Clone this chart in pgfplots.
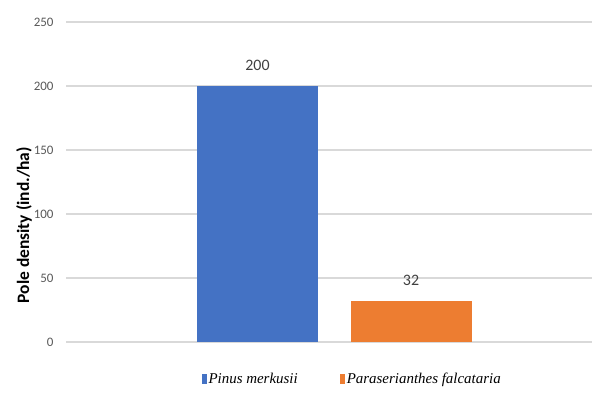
\documentclass[border=0pt]{standalone}
\usepackage{pgfplots}
\pgfplotsset{compat=1.18}
\usepackage{fontspec}
\setmainfont{Carlito}
\newfontfamily\legfont{Liberation Serif}
\definecolor{cblue}{HTML}{4472C4}
\definecolor{corange}{HTML}{ED7D31}
\definecolor{gridc}{HTML}{D9D9D9}
\definecolor{tickc}{HTML}{595959}
\definecolor{labc}{HTML}{404040}
\begin{document}
\begin{tikzpicture}[x=1bp,y=1bp]
\useasboundingbox (0,0) rectangle (592,396);
\begin{axis}[
  at={(66bp,54bp)}, anchor=south west,
  scale only axis, width=526bp, height=320bp,
  xmin=66, xmax=592, ymin=0, ymax=250,
  ytick={0,50,100,150,200,250},
  xtick=\empty,
  ymajorgrids, grid style={gridc, line width=1.2pt},
  axis line style={draw=none},
  major tick length=0pt,
  yticklabel style={font=\fontsize{13}{13}\selectfont, text=tickc, xshift=-9bp},
  /pgf/number format/assume math mode=true,
  ylabel={\bfseries Pole density (ind./ha)},
  ylabel style={font=\fontsize{17.5}{17.5}\selectfont, at={(axis description cs:-0.08,0.365)}, anchor=center},
  ybar, bar width=121, bar shift=0pt,
  nodes near coords,
  nodes near coords style={font=\fontsize{16}{16}\selectfont, text=labc, yshift=12bp},
  legend style={at={(axis description cs:0.544,-0.117)}, anchor=center, draw=none, fill=none,
    legend columns=2, font=\legfont\itshape\fontsize{15}{15}\selectfont,
    /tikz/every even column/.append style={column sep=40bp}},
  legend cell align=left,
  clip=false,
]
\addplot[fill=cblue, draw=none, legend image code/.code={\fill[cblue] (0bp,-5bp) rectangle (5bp,5bp);}] coordinates {(257.5,200)};
\addplot[fill=corange, draw=none, legend image code/.code={\fill[corange] (0bp,-5bp) rectangle (5bp,5bp);}] coordinates {(411,32)};
\legend{Pinus merkusii, Paraserianthes falcataria}
\end{axis}
\end{tikzpicture}
\end{document}
